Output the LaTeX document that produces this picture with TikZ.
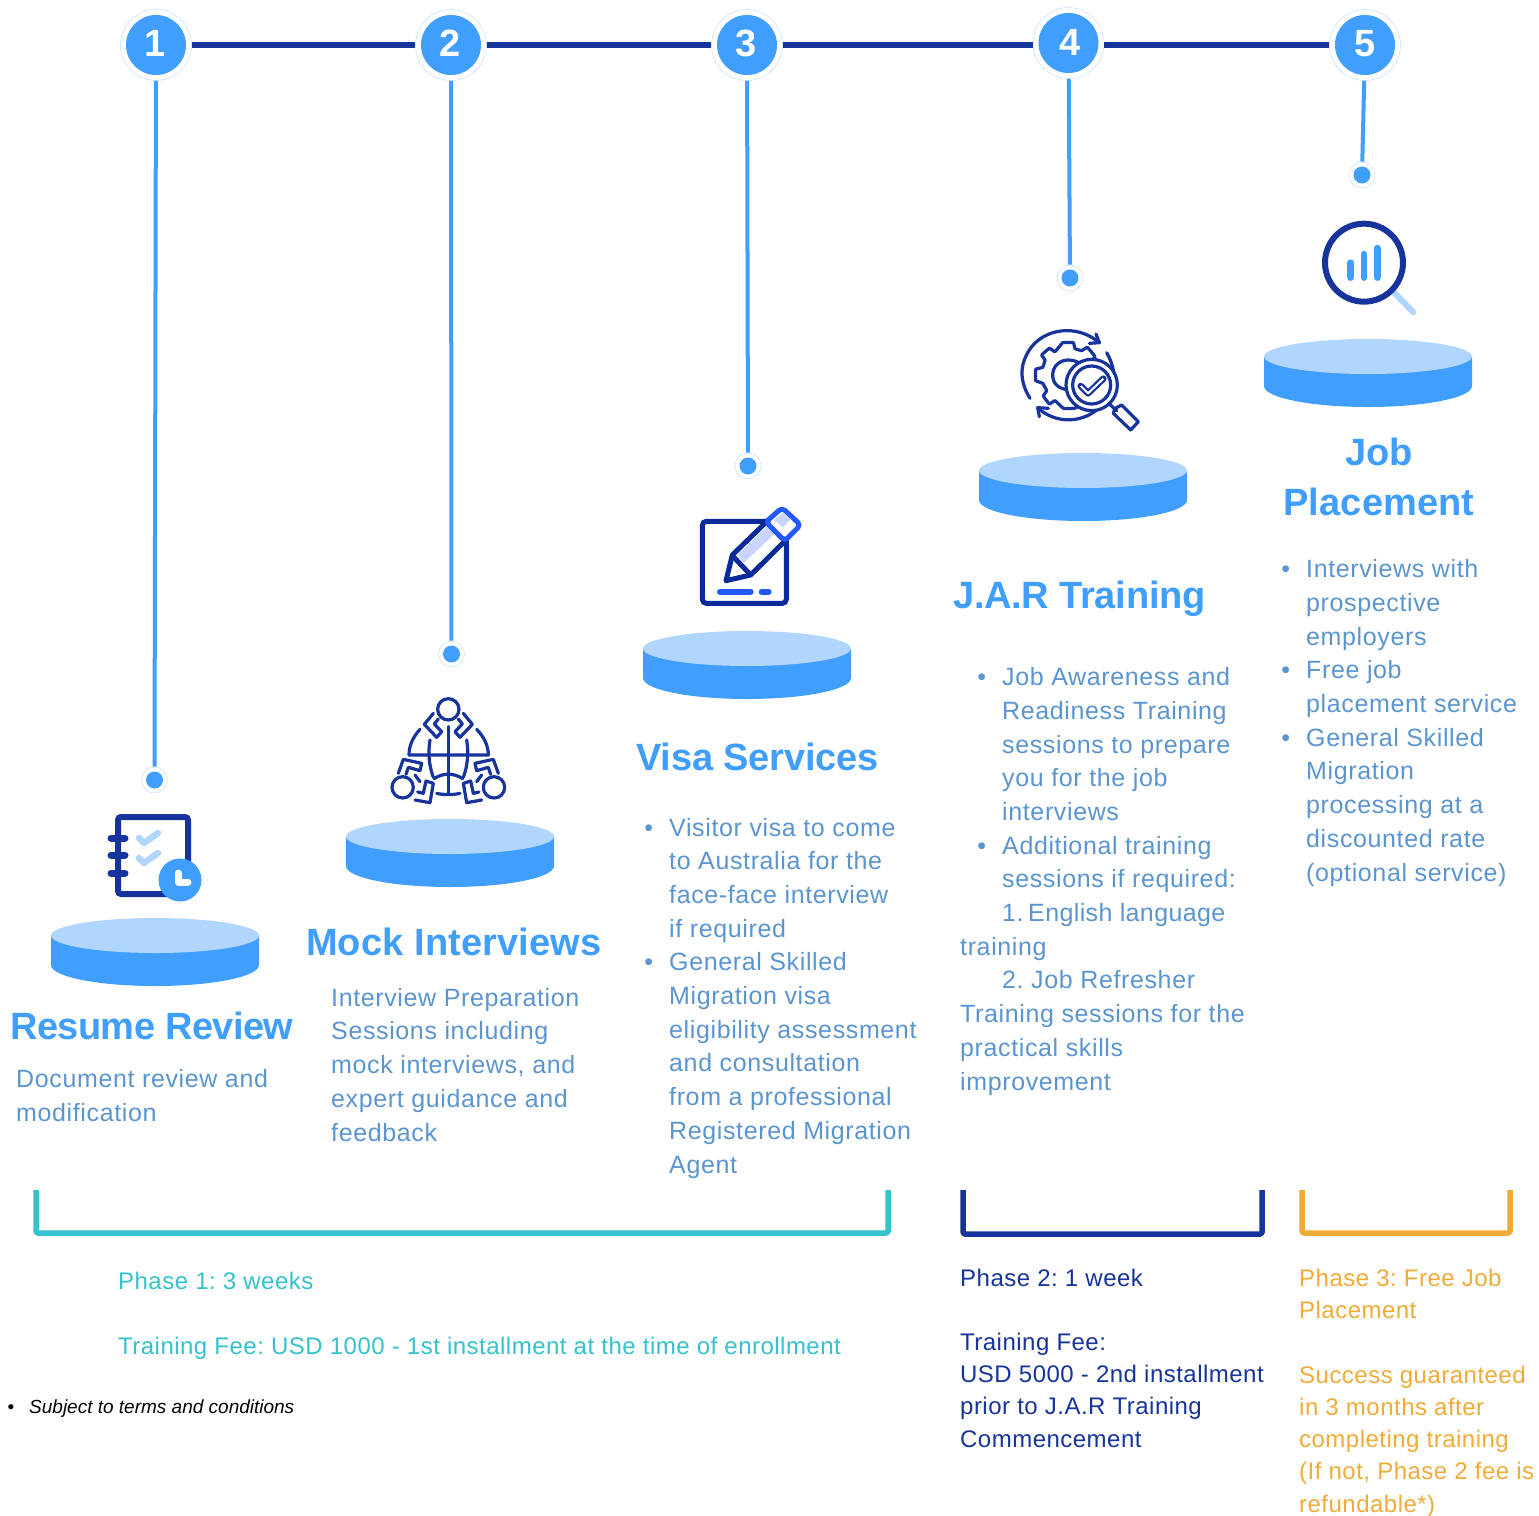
\documentclass[tikz,border=0pt]{standalone}
\usepackage{fontspec}
\setmainfont{Liberation Sans}
\newfontfamily\bodyfont[LetterSpace=2.5]{Liberation Sans}
\newfontfamily\phasefont[LetterSpace=2.0]{Liberation Sans}
\newfontfamily\headfont[LetterSpace=0.4]{Liberation Sans}
\usetikzlibrary{calc}
\definecolor{sky}{HTML}{409EFF}
\definecolor{pale}{HTML}{B0D5FF}
\definecolor{navy}{HTML}{16349B}
\definecolor{deep}{HTML}{0A2A9C}
\definecolor{vivid}{HTML}{2458FF}
\definecolor{bodyblue}{HTML}{5B95D0}
\definecolor{teal}{HTML}{35C2CC}
\definecolor{amber}{HTML}{F0AB38}
\newcommand{\bul}{\makebox[0pt][r]{\textbullet\hspace{16pt}}}
\newcommand{\platform}[2]{%
  \fill[sky] (#1-104,#2+18) -- (#1-104,#2+47) arc[start angle=180,end angle=360,x radius=104,y radius=-21] -- (#1+104,#2+18) -- cycle;
  \fill[pale] (#1,#2+17.5) ellipse[x radius=104,y radius=17.5];}
\tikzset{
  x=1pt,y=-1pt,
  outerring/.style={circle,draw=pale!70,line width=0.6pt,fill=white,minimum size=71pt,inner sep=0pt},
  numdisc/.style={circle,fill=sky,text=white,minimum size=60pt,inner sep=0pt,font=\fontsize{38}{38}\selectfont\bfseries},
  dotring/.style={circle,draw=pale!70,line width=0.6pt,fill=white,minimum size=26pt,inner sep=0pt},
  dotcore/.style={circle,fill=sky,minimum size=17pt,inner sep=0pt},
  mainline/.style={draw=navy,line width=6pt},
  dropline/.style={draw=sky,line width=4pt},
  head/.style={anchor=base west,inner sep=0pt,text=sky,font=\fontsize{38}{50}\selectfont\headfont\bfseries,align=left},
  bodytext/.style={anchor=base west,inner sep=0pt,text=bodyblue,font=\fontsize{25}{33.7}\selectfont\bodyfont\frenchspacing,align=left},
  phasetext/.style={anchor=base west,inner sep=0pt,font=\fontsize{24}{32.2}\selectfont\phasefont\frenchspacing,align=left},
  bracket/.style={line width=5.5pt,line join=round,rounded corners=1.5pt},
  iconline/.style={draw=navy,line width=3.2pt,line cap=round,line join=round},
}
\begin{document}
\begin{tikzpicture}
\useasboundingbox (0,0) rectangle (1539,1515);
\fill[white] (0,0) rectangle (1539,1515);

% timeline
\node[outerring] (s1) at (156,45) {};
\node[outerring] (s2) at (451,45) {};
\node[outerring] (s3) at (747,45) {};
\node[outerring] (s4) at (1068.5,43) {};
\node[outerring] (s5) at (1365,45) {};
\node[dotring] (d1) at (154.5,780) {};
\node[dotring] (d2) at (451.5,654) {};
\node[dotring] (d3) at (748,466) {};
\node[dotring] (d4) at (1070,278) {};
\node[dotring] (d5) at (1362,175) {};
\draw[mainline] (s1) -- (s2);
\draw[mainline] (s2) -- (s3);
\draw[mainline] (s3.east) -- (s3.east -| s4.west);
\draw[mainline] (s5.west -| s4.east) -- (s5.west);
\foreach \i in {1,...,5}{\draw[dropline] (s\i) -- (d\i);}
\node[numdisc] (n1) at (s1) {\hspace{-2pt}\raisebox{3pt}{1}};
\node[numdisc] (n2) at (s2) {\hspace{-2pt}\raisebox{3pt}{2}};
\node[numdisc] (n3) at (s3) {\hspace{-2pt}\raisebox{3pt}{3}};
\node[numdisc] (n4) at (s4) {\hspace{3pt}\raisebox{1pt}{4}};
\node[numdisc] (n5) at (s5) {\raisebox{3pt}{5}};
\foreach \i in {1,...,5}{\node[dotcore] (c\i) at (d\i) {};}

% platforms
\platform{155}{918}
\platform{450}{819}
\platform{747}{631}
\platform{1083}{453}
\platform{1368}{339}

% icon 1: notebook
\draw[navy,line width=6pt,rounded corners=3pt] (118,817) rectangle (188,894);
\foreach \yy in {838,855,873}{\draw[navy,line width=7pt,line cap=round] (111,\yy) -- (125,\yy);}
\draw[pale,line width=6.5pt,line cap=round,line join=round] (139,838) -- (144,843) -- (158,833);
\draw[pale,line width=6.5pt,line cap=round,line join=round] (139,858) -- (144,863) -- (158,853);
\fill[sky] (180,880) circle (21.5);
\draw[white,line width=7pt,line cap=round,line join=round] (178,873) -- (178,882) -- (188,882);

% icon 2: globe with people
\begin{scope}[shift={(90,680)},scale=1/3]
\tikzset{every path/.append style={iconline}}
\draw (1075,88) circle (32);
\draw (938,322) circle (32);
\draw (1212,322) circle (32);
\draw (990,148) .. controls (968,172) and (957,198) .. (957,225) -- (1195,225) .. controls (1195,198) and (1183,172) .. (1160,148);
\draw (1075,140) -- (1075,340);
\draw (1020,180) .. controls (1013,220) and (1018,260) .. (1030,292);
\draw (1130,180) .. controls (1137,220) and (1132,260) .. (1120,292);
\draw (1032,296) .. controls (1060,278) and (1090,278) .. (1118,296);
\draw (1040,340) .. controls (1060,345) and (1090,345) .. (1110,340);
\draw (1030,100) -- (1003,133) -- (1040,172) -- (1055,155) -- (1033,132) -- (1045,117);
\draw (1120,100) -- (1147,133) -- (1110,172) -- (1095,155) -- (1117,132) -- (1105,117);
\draw (925,280) -- (940,238) -- (995,250) -- (990,272) -- (955,262) -- (948,283);
\draw (975,360) -- (1020,368) -- (1030,310) -- (1008,303) -- (1000,340) -- (983,336);
\draw (1225,280) -- (1210,238) -- (1155,250) -- (1160,272) -- (1195,262) -- (1202,283);
\draw (1175,360) -- (1130,368) -- (1120,310) -- (1142,303) -- (1150,340) -- (1167,336);
\draw (975,285) -- (990,305);
\draw (1175,285) -- (1160,305);
\end{scope}

% icon 3: pencil on sheet
\begin{scope}[shift={(680,440)},scale=1/3]
\draw[deep,line width=5pt,rounded corners=4pt,fill=white] (67,244) rectangle (319,490);
\draw[deep,line width=5pt,line join=round,fill=white] (138,422) -- (157,345) -- (265,240) -- (318,300) -- (212,405) -- cycle;
\fill[vivid!25] (172,345) -- (275,245) -- (298,268) -- (192,368) -- cycle;
\draw[deep,line width=5pt] (160,350) -- (212,405);
\draw[vivid,line width=5pt,line join=round,rounded corners=4pt,fill=white] (306,203) -- (362,255) -- (314,303) -- (258,246) -- cycle;
\fill[vivid!25] (282,240) -- (310,218) -- (332,238) -- (308,262) -- cycle;
\draw[vivid,line width=6pt,line cap=round] (120,455) -- (212,455);
\draw[vivid,line width=6pt,line cap=round] (245,455) -- (266,455);
\end{scope}

% icon 4: gear and magnifier
\begin{scope}[shift={(1000,160)},scale=1/3]
\tikzset{every path/.append style={iconline}}
\draw (298,548) .. controls (230,490) and (130,505) .. (88,570) .. controls (55,620) and (62,670) .. (90,715);
\draw (288,522) -- (298,548) -- (268,550);
\draw (320,578) .. controls (332,598) and (338,618) .. (342,640);
\draw (115,745) .. controls (165,790) and (240,790) .. (290,750);
\draw (118,770) -- (113,743) -- (145,745);
\draw plot[smooth cycle,tension=0.15] coordinates {
  (188,548) (220,548) (225,566) (245,572) (262,562) (285,590)
  (272,606) (280,625) (280,640) (300,648) (296,690) (280,695)
  (270,715) (280,730) (255,745) (240,738) (222,745) (190,745)
  (165,722) (148,732) (130,708) (140,692) (128,670) (107,662)
  (107,628) (128,622) (135,600) (125,585) (148,565) (165,575)};
\draw (245,680) -- (215,690) .. controls (170,690) and (158,665) .. (158,645) .. controls (158,618) and (180,600) .. (205,600) .. controls (220,600) and (235,605) .. (245,615);
\draw[fill=white] (275,675) circle (77);
\draw (275,675) circle (57);
\draw[line width=6.5pt] (242,678) -- (264,700) -- (310,656);
\draw[white,line width=2pt,line cap=butt] (242,678) -- (264,700) -- (310,656);
\draw (328,732) -- (350,752);
\draw (345,745) -- (365,735) -- (415,785) -- (392,810) -- (340,760) -- cycle;
\end{scope}

% icon 5: magnifier with bars
\begin{scope}[shift={(1000,160)},scale=1/3]
\draw[pale,line width=6pt,line cap=round] (1185,400) -- (1240,457);
\draw[navy,line width=6pt,fill=white] (1092,308) circle (117);
\draw[sky,line width=6.5pt,line cap=round] (1052,308) -- (1052,353);
\draw[sky,line width=6.5pt,line cap=round] (1092,282) -- (1092,353);
\draw[sky,line width=6.5pt,line cap=round] (1132,264) -- (1132,353);
\end{scope}

% headings
\node[head] (h1) at (10,1039) {\addfontfeature{LetterSpace=-1.5}Resume Review};
\node[head] (h2) at (306,955) {Mock Interviews};
\node[head] (h3) at (636,770) {\addfontfeature{LetterSpace=-0.4}Visa Services};
\node[head] (h4) at (953,608) {\addfontfeature{LetterSpace=-0.7}J.A.R Training};
\node[head,anchor=base,align=center] (h5) at (1379,515) {Job\\Placement};

% bodies
\node[bodytext] (b1) at (16,1121) {Document review and\\modification};
\node[bodytext] (b2) at (331,1141) {Interview Preparation\\Sessions including\\mock interviews, and\\expert guidance and\\feedback};
\node[bodytext] (b3) at (669,1173) {\bul Visitor visa to come\\to Australia for the\\face-face interview\\if required\\\bul General Skilled\\Migration visa\\eligibility assessment\\and consultation\\from a professional\\Registered Migration\\Agent};
\node[bodytext] (b4) at (960,1090) {\hspace{42pt}\bul Job Awareness and\\\hspace{42pt}Readiness Training\\\hspace{42pt}sessions to prepare\\\hspace{42pt}you for the job\\\hspace{42pt}interviews\\\hspace{42pt}\bul Additional training\\\hspace{42pt}sessions if required:\\\hspace{42pt}1.\kern-3pt\ {\addfontfeature{LetterSpace=1.5}English language}\\training\\\hspace{42pt}2. Job Refresher\\Training sessions for the\\practical skills\\improvement};
\node[bodytext] (b5) at (1306,881) {\bul Interviews with\\prospective\\employers\\\bul Free job\\placement service\\\bul General Skilled\\Migration\\processing at a\\discounted rate\\(optional service)};

% brackets
\draw[teal,bracket] (36,1190) -- (36,1233) -- (888,1233) -- (888,1190);
\draw[navy,bracket] (963,1190) -- (963,1234) -- (1262,1234) -- (1262,1190);
\draw[amber,bracket] (1302,1190) -- (1302,1233) -- (1510,1233) -- (1510,1190);

% phases
\node[phasetext,text=teal] (p1) at (118,1354) {Phase 1: 3 weeks\\[32.2pt]Training Fee: USD 1000 - 1st installment at the time of enrollment};
\node[phasetext,text=navy] (p2) at (960,1447) {Phase 2: 1 week\\[32.2pt]Training Fee:\\USD 5000 - 2nd installment\\prior to J.A.R Training\\Commencement};
\node[phasetext,text=amber] (p3) at (1299,1512) {Phase 3: Free Job\\Placement\\[32.2pt]Success guaranteed\\in 3 months after\\completing training\\(If not, Phase 2 fee is\\refundable*)};

% note
\node[anchor=base west,inner sep=0pt,font=\fontsize{19}{22}\selectfont\itshape] (note) at (29,1413) {\makebox[0pt][r]{\upshape\textbullet\hspace{15pt}}Subject to terms and conditions};
\end{tikzpicture}
\end{document}
